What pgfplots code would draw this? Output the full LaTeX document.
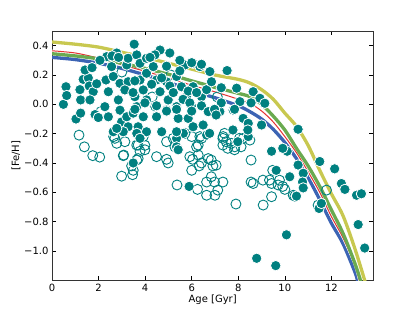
\documentclass[border=0pt]{standalone}
\usepackage{fontspec}
\setmainfont{DejaVu Sans}
\usepackage{pgfplots}
\pgfplotsset{compat=1.18}
\definecolor{cTeal}{RGB}{0,128,128}
\definecolor{cYel}{RGB}{200,200,80}
\definecolor{cGrn}{RGB}{106,170,80}
\definecolor{cRed}{RGB}{230,50,50}
\definecolor{cBlu}{RGB}{60,100,180}
\begin{document}
\begin{tikzpicture}
\begin{axis}[
  at={(0,0)}, anchor=south west,
  scale only axis, width=321.3pt, height=249.3pt,
  xmin=0, xmax=13.8, ymin=-1.2, ymax=0.5,
  xtick={0,2,4,6,8,10,12},
  xticklabels={0,2,4,6,8,10,12},
  ytick={-1.0,-0.8,-0.6,-0.4,-0.2,0.0,0.2,0.4},
  yticklabels={−1.0,−0.8,−0.6,−0.4,−0.2,0.0,0.2,0.4},
  tick align=inside, major tick length=4pt,
  tick style={black, line width=0.6pt},
  axis line style={black!80, line width=0.9pt},
  ticklabel style={font=\fontsize{10}{12}\selectfont},
  label style={font=\fontsize{10}{12}\selectfont},
  xlabel={Age [Gyr]}, ylabel={[Fe/H]},
  xlabel style={at={(axis description cs:0.5,-0.078)}, anchor=center},
  ylabel style={at={(axis description cs:-0.112,0.5)}, anchor=center},
]
% open circles
\addplot[only marks, mark=o, mark size=5pt, mark options={draw=cTeal, line width=0.9pt, fill=none}] coordinates {
(1.16,-0.21) (1.39,-0.29) (1.75,-0.35) (2.05,-0.36) (3.06,-0.35) (2.99,-0.49)
(3.46,-0.48) (3.42,-0.42) (3.70,-0.37) (4.49,-0.357) (4.92,-0.375) (4.99,-0.40)
(5.37,-0.55) (6.25,-0.58) (6.0,-0.45) (6.04,-0.375) (6.32,-0.42) (6.64,-0.62)
(6.64,-0.53) (2.70,-0.232) (2.78,-0.266) (3.13,-0.255) (3.64,-0.278) (3.99,-0.31)
(4.92,-0.255) (5.21,-0.232) (5.28,-0.29) (6.0,-0.22) (6.42,-0.232) (6.21,-0.29)
(5.92,-0.357) (3.08,-0.346) (2.65,-0.22) (3.92,-0.22) (3.99,-0.28) (3.70,-0.278)
(3.78,-0.32) (3.64,-0.38) (3.49,-0.45) (6.28,-0.346) (6.42,-0.40) (6.71,-0.37)
(6.28,-0.278) (6.35,-0.22) (5.71,-0.198) (7.41,-0.198) (7.34,-0.232) (7.48,-0.255)
(7.34,-0.278) (7.55,-0.30) (7.84,-0.31) (7.70,-0.266) (8.12,-0.29) (8.05,-0.232)
(8.55,-0.38) (6.84,-0.38) (6.91,-0.42) (7.05,-0.415) (6.84,-0.494) (6.98,-0.53)
(7.34,-0.53) (7.12,-0.585) (7.0,-0.62) (7.90,-0.68) (9.07,-0.687) (9.43,-0.63)
(10.0,-0.58) (10.36,-0.62) (8.64,-0.54) (9.43,-0.54) (9.71,-0.55) (9.48,-0.45)
(9.06,-0.517) (9.34,-0.517) (9.77,-0.517) (9.91,-0.56) (8.55,-0.53) (8.21,-0.232)
(8.50,-0.244) (11.43,-0.687) (11.79,-0.585) (10.43,-0.626) (2.1,-0.05) (4.3,0.05)
(5.1,0.2) (7.1,0.05) (3.0,0.22) (7.35,-0.22) (7.85,-0.29)
};
% filled circles
\addplot[only marks, mark=*, mark size=5.2pt, mark options={fill=cTeal, draw=white, line width=0.8pt}] coordinates {
(0.49,0.00) (0.60,0.12) (0.63,0.06) (1.03,-0.10) (1.23,-0.06) (1.20,0.10)
(1.23,0.03) (1.34,0.17) (1.56,0.18) (1.60,0.125) (1.77,0.086) (1.92,0.14)
(1.63,0.03) (1.42,0.234) (1.85,-0.07) (1.99,-0.09) (2.27,-0.016) (2.42,-0.085)
(2.32,0.166) (2.42,0.086) (2.63,0.19) (2.56,0.257) (2.35,0.325) (2.06,0.30)
(2.78,0.35) (2.85,0.03) (2.92,-0.04) (2.99,-0.12) (3.21,-0.085) (3.27,-0.153)
(3.06,-0.187) (2.63,-0.187) (2.78,-0.164) (2.92,0.143) (3.27,0.154) (3.13,0.098)
(3.21,0.268) (3.27,0.314) (3.64,0.337) (3.56,0.052) (3.64,-0.016) (3.49,-0.06)
(3.70,-0.153) (3.92,-0.085) (4.06,0.03) (3.92,0.098) (3.78,0.166) (4.06,0.212)
(4.35,0.257) (3.78,0.28) (4.06,0.314) (4.64,0.37) (5.06,0.35) (4.42,0.337)
(4.49,0.166) (4.64,0.086) (4.42,-0.016) (4.49,-0.085) (4.92,-0.039) (4.99,0.03)
(4.92,0.154) (5.35,0.19) (5.56,0.12) (5.35,-0.016) (5.42,-0.096) (5.85,-0.096)
(6.0,-0.016) (5.78,0.052) (6.06,0.12) (6.42,0.052) (6.06,0.28) (6.35,0.257)
(5.71,0.268) (5.49,0.30) (6.06,-0.153) (6.49,-0.141) (5.64,-0.198) (5.35,-0.232)
(5.35,-0.29) (4.71,-0.187) (4.06,-0.187) (3.64,-0.198) (3.78,-0.232) (3.53,0.41)
(2.58,0.33) (2.86,0.32) (1.72,0.25) (4.21,0.32) (6.0,0.284) (6.42,0.273)
(4.92,0.26) (5.49,0.228) (4.71,0.18) (3.56,0.16) (4.28,0.137) (3.48,0.08)
(5.06,0.125) (5.21,0.08) (5.85,0.09) (6.21,0.08) (5.63,0.034) (5.92,0.01)
(6.64,0.10) (6.42,-0.01) (4.49,-0.01) (3.99,0.01) (3.56,-0.034) (4.92,-0.046)
(5.35,-0.034) (6.0,-0.046) (6.78,0.223) (7.52,0.23) (6.85,0.154) (7.93,0.11)
(8.64,0.086) (8.93,0.041) (9.14,0.007) (6.71,-0.05) (7.21,-0.05) (7.78,-0.039)
(8.21,-0.096) (8.43,-0.13) (9.0,-0.141) (8.43,-0.22) (9.43,-0.32) (10.1,-0.32)
(6.64,-0.21) (8.07,0.018) (7.27,0.113) (8.55,0.01) (7.84,-0.034) (7.27,0.01)
(6.98,-0.034) (7.98,-0.255) (8.41,-0.175) (7.77,-0.175) (7.05,-0.073) (6.77,-0.198)
(9.63,-0.45) (9.91,-0.30) (3.49,-0.40) (5.42,-0.31) (5.89,-0.56) (5.35,-0.187)
(10.57,-0.17) (10.57,-0.414) (10.79,-0.47) (10.76,-0.53) (10.79,-0.57) (10.21,-0.494)
(10.50,-0.626) (11.50,-0.39) (12.14,-0.44) (12.43,-0.54) (12.58,-0.58) (13.08,-0.62)
(13.29,-0.61) (11.47,-0.71) (11.57,-0.676) (13.15,-0.82) (13.43,-0.98) (10.07,-0.89)
(8.79,-1.05) (9.61,-1.10)
};
% model lines
\addplot[cBlu, line width=3.3pt, smooth] coordinates {
(0,0.32) (1,0.305) (2,0.28) (3,0.245) (4,0.20) (5,0.15) (6,0.095) (6.5,0.068)
(7,0.045) (8,-0.01) (8.5,-0.05) (9,-0.10) (9.5,-0.17) (10,-0.26) (10.5,-0.37)
(11,-0.50) (11.5,-0.65) (12,-0.81) (12.5,-0.95) (13,-1.14) (13.12,-1.2) (13.2,-1.25)
};
\addplot[white, line width=2.4pt, smooth] coordinates {
(0,0.365) (1,0.35) (2,0.315) (3,0.27) (4,0.225) (5,0.18) (6,0.13) (7,0.085)
(8,0.035) (8.5,0.007) (9,-0.045) (9.5,-0.12) (10,-0.22) (10.5,-0.33) (11,-0.46)
(11.5,-0.60) (12,-0.765) (12.5,-0.91) (13,-1.09) (13.2,-1.2) (13.3,-1.26)
};
\addplot[cRed, line width=1pt, smooth] coordinates {
(0,0.365) (1,0.35) (2,0.315) (3,0.27) (4,0.225) (5,0.18) (6,0.13) (7,0.085)
(8,0.035) (8.5,0.007) (9,-0.045) (9.5,-0.12) (10,-0.22) (10.5,-0.33) (11,-0.46)
(11.5,-0.60) (12,-0.765) (12.5,-0.91) (13,-1.09) (13.2,-1.2) (13.3,-1.26)
};
\addplot[cGrn, line width=3.3pt, smooth] coordinates {
(0,0.345) (1,0.33) (2,0.31) (3,0.28) (4,0.245) (5,0.205) (6,0.16) (6.5,0.138)
(7,0.115) (8,0.075) (8.5,0.052) (9,0.0) (9.5,-0.08) (10,-0.175) (10.5,-0.30)
(11,-0.42) (11.5,-0.56) (12,-0.72) (12.5,-0.88) (13,-1.08) (13.25,-1.2) (13.35,-1.26)
};
\addplot[cYel, line width=3.3pt, smooth] coordinates {
(0,0.425) (1,0.41) (2,0.39) (3,0.355) (4,0.32) (5,0.28) (6,0.24) (7,0.20)
(8,0.17) (8.5,0.145) (9,0.10) (9.5,0.035) (10,-0.06) (10.5,-0.15) (11,-0.28)
(11.5,-0.45) (12,-0.61) (12.5,-0.76) (13,-0.98) (13.43,-1.2) (13.55,-1.27)
};
\end{axis}
\pgfresetboundingbox
\useasboundingbox (-52pt,-31.7pt) rectangle (363pt,280.3pt);
\end{tikzpicture}
\end{document}
